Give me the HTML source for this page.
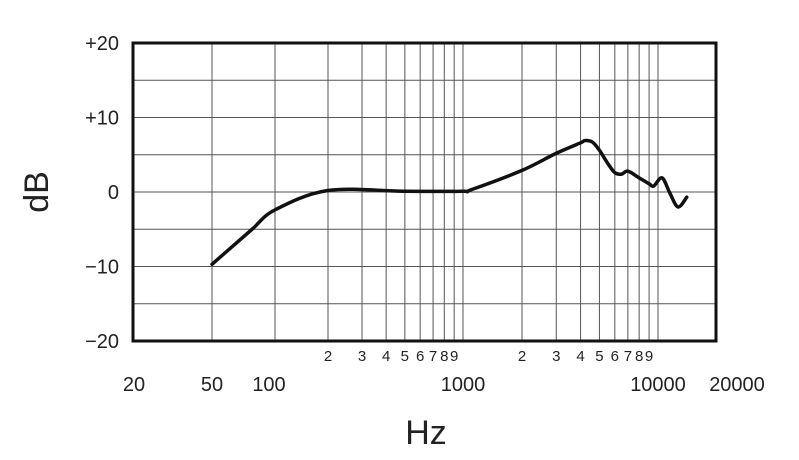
<!DOCTYPE html>
<html><head><meta charset="utf-8"><style>
html,body{margin:0;padding:0;background:#fff;}
svg{display:block;font-family:"Liberation Sans",sans-serif;}
</style></head><body>
<svg id="chart" width="799" height="460" viewBox="0 0 799 460" xmlns="http://www.w3.org/2000/svg">
<g id="grid"></g>
<g id="labels"></g>
<path id="curve" fill="none" stroke="#111" stroke-width="3.5" stroke-linejoin="round" stroke-linecap="round"></path>
<rect x="133" y="43" width="583" height="298" fill="none" stroke="#111" stroke-width="3"></rect>
<text transform="translate(48,192) rotate(-90)" text-anchor="middle" font-size="34" fill="#222">dB</text>
<text x="426" y="444" text-anchor="middle" font-size="34" fill="#222">Hz</text>
</svg>
<script>
const freqs=[50,77,100,200,500,1000,1100,2000,3000,4000,4200,4600,5000,5500,6000,6500,7000,8000,9000,9500,10500,11500,12700,14100];
const dbs=[-9.7,-5.1,-2.4,0.2,0.1,0.1,0.3,2.9,5.2,6.6,6.9,6.7,5.6,3.9,2.6,2.4,2.8,1.9,1.1,0.8,1.9,-0.1,-2.0,-0.7];
const yTicks=[20,10,0,-10,-20];
const yTickLabels=["+20","+10","0","\u221210","\u221220"];
const majorFreqs=[20,50,100,1000,10000,20000];
const majorLabels=["20","50","100","1000","10000","20000"];
const minorFreqs=[200,300,400,500,600,700,800,900,2000,3000,4000,5000,6000,7000,8000,9000];
const minorLabels=["2","3","4","5","6","7","8","9","2","3","4","5","6","7","8","9"];
const anchors=[[20,133],[50,212],[100,275],[200,328],[1000,463],[2000,522],[10000,658],[20000,716]];
function xs(f){const l=Math.log10(f);
 for(let i=0;i<anchors.length-1;i++){const a=Math.log10(anchors[i][0]),b=Math.log10(anchors[i+1][0]);
  if(l<=b||i==anchors.length-2){return anchors[i][1]+(l-a)/(b-a)*(anchors[i+1][1]-anchors[i][1]);}}}
function ys(d){return 192-d*7.45;}
const NS="http://www.w3.org/2000/svg";
const grid=document.getElementById('grid'),labels=document.getElementById('labels');
function mk(tag,attrs,parent){const e=document.createElementNS(NS,tag);for(const k in attrs)e.setAttribute(k,attrs[k]);parent.appendChild(e);return e;}
for(let d=-15;d<=15;d+=5){const l=mk('line',{x1:133,x2:716,y1:ys(d),y2:ys(d),stroke:'#555','stroke-width':1},grid);
 
 }
[50,100,...minorFreqs,1000,10000].forEach(f=>{const l=mk('line',{x1:xs(f),x2:xs(f),y1:43,y2:341,stroke:'#555','stroke-width':1},grid);
 
 });
yTicks.forEach((v,i)=>{const t=mk('text',{x:119,y:ys(v)+7,'text-anchor':'end','font-size':20,fill:'#222'},labels);t.textContent=yTickLabels[i];
 
 });
const majorPos={20:134,100:269,20000:737};
majorFreqs.forEach((f,i)=>{const x=majorPos[f]||xs(f);const t=mk('text',{x:x,y:391,'text-anchor':'middle','font-size':20,fill:'#222'},labels);t.textContent=majorLabels[i];
 
 });
minorFreqs.forEach((f,i)=>{const t=mk('text',{x:xs(f),y:361,'text-anchor':'middle','font-size':15,fill:'#222'},labels);t.textContent=minorLabels[i];
 
 });
const pts=freqs.map((f,i)=>[xs(f),ys(dbs[i])]);
let d='M'+pts[0][0]+','+pts[0][1];
for(let i=0;i<pts.length-1;i++){const p0=pts[Math.max(0,i-1)],p1=pts[i],p2=pts[i+1],p3=pts[Math.min(pts.length-1,i+2)];
 const c1=[p1[0]+(p2[0]-p0[0])/6,p1[1]+(p2[1]-p0[1])/6],c2=[p2[0]-(p3[0]-p1[0])/6,p2[1]-(p3[1]-p1[1])/6];
 d+=' C'+c1+' '+c2+' '+p2;}
document.getElementById('curve').setAttribute('d',d);
</script>
</body></html>
